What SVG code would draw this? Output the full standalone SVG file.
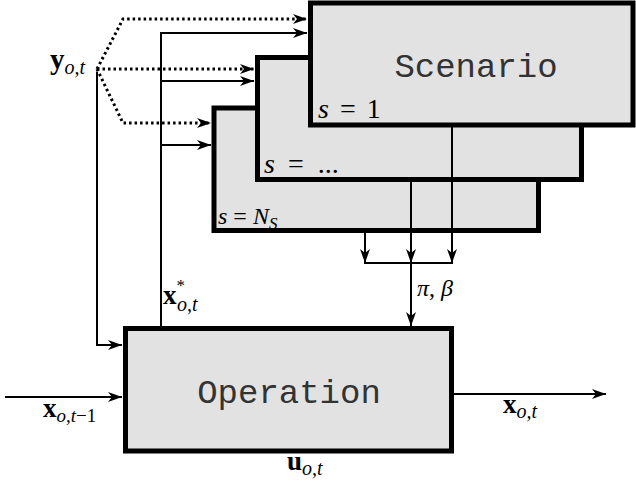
<svg xmlns="http://www.w3.org/2000/svg" width="636" height="488" viewBox="0 0 636 488">
<style>
.box{fill:#e2e2e2;stroke:#000;stroke-width:5}
.ln{fill:none;stroke:#000;stroke-width:2}
.dot{fill:none;stroke:#000;stroke-width:3;stroke-dasharray:2.5 3}
.mono{font-family:"Liberation Mono",monospace;font-size:34px;fill:#333;text-anchor:middle}
.m{font-family:"Liberation Serif",serif;font-style:italic;fill:#000}
.r{font-family:"Liberation Serif",serif;fill:#000}
.b{font-family:"Liberation Serif",serif;font-weight:bold;fill:#000}
</style>
<defs>
<marker id="ah" viewBox="0 0 14 10" refX="14" refY="5" markerWidth="14" markerHeight="10" markerUnits="userSpaceOnUse" orient="auto">
<path d="M0,0 L14,5 L0,10 L4,5 z" fill="#000"/>
</marker>
</defs>
<g id="scenario-back">
<rect class="box" x="214" y="108" width="324.5" height="122.5"/>
<text x="218" y="224" font-size="24"><tspan class="m">s</tspan><tspan class="r" dx="6">=</tspan><tspan class="m" dx="6">N</tspan><tspan class="m" font-size="17" dy="5">S</tspan></text>
</g>
<g id="scenario-mid">
<rect class="box" x="257.5" y="57.5" width="324" height="122"/>
<text x="264" y="173" font-size="28"><tspan class="m">s</tspan><tspan class="r" dx="13">=</tspan><tspan class="r" dx="14">...</tspan></text>
</g>
<g id="scenario">
<rect class="box" x="310.5" y="3" width="322.5" height="122"/>
<text class="mono" x="476" y="77">Scenario</text>
<text x="318" y="118" font-size="28"><tspan class="m">s</tspan><tspan class="r" dx="11">=</tspan><tspan class="r" dx="11">1</tspan></text>
</g>
<g id="operation">
<rect class="box" x="125.5" y="328.5" width="326" height="122.5"/>
<text class="mono" x="289" y="403">Operation</text>
</g>
<g id="connectors">
<polyline class="dot" points="97,69 123,19 307,19" marker-end="url(#ah)"/>
<polyline class="dot" points="97,69 254,69" marker-end="url(#ah)"/>
<polyline class="dot" points="97,69 123,123 211,123" marker-end="url(#ah)"/>
<polyline class="ln" points="161,328 161,33 307,33" marker-end="url(#ah)"/>
<line class="ln" x1="161" y1="81" x2="254" y2="81" marker-end="url(#ah)"/>
<line class="ln" x1="161" y1="145" x2="211" y2="145" marker-end="url(#ah)"/>
<polyline class="ln" points="97,72 97,345 122,345" marker-end="url(#ah)"/>
<line class="ln" x1="5" y1="397" x2="122" y2="397" marker-end="url(#ah)"/>
<line class="ln" x1="451" y1="394" x2="606" y2="394" marker-end="url(#ah)"/>
<line class="ln" x1="365" y1="231" x2="365" y2="263" marker-end="url(#ah)"/>
<line class="ln" x1="411" y1="180" x2="411" y2="263" marker-end="url(#ah)"/>
<line class="ln" x1="452" y1="125" x2="452" y2="263" marker-end="url(#ah)"/>
<line class="ln" x1="364" y1="263" x2="453" y2="263"/>
<line class="ln" x1="411" y1="263" x2="411" y2="326" marker-end="url(#ah)"/>
</g>
<g id="labels">
<text x="50" y="69"><tspan class="b" font-size="29">y</tspan><tspan class="m" font-size="20" dy="5">o,t</tspan></text>
<text x="163" y="304"><tspan class="b" font-size="27">x</tspan><tspan class="r" font-size="17" dy="-13">*</tspan><tspan class="m" font-size="20" dx="-8" dy="20">o,t</tspan></text>
<text x="43" y="417"><tspan class="b" font-size="27">x</tspan><tspan class="m" font-size="19" dy="5">o,t</tspan><tspan class="r" font-size="19">−1</tspan></text>
<text x="503" y="413"><tspan class="b" font-size="27">x</tspan><tspan class="m" font-size="20" dy="5">o,t</tspan></text>
<text x="287" y="470"><tspan class="b" font-size="27">u</tspan><tspan class="m" font-size="20" dy="5">o,t</tspan></text>
<text x="417" y="296" font-size="24"><tspan class="m">π</tspan><tspan class="r">, </tspan><tspan class="m">β</tspan></text>
</g>
</svg>
